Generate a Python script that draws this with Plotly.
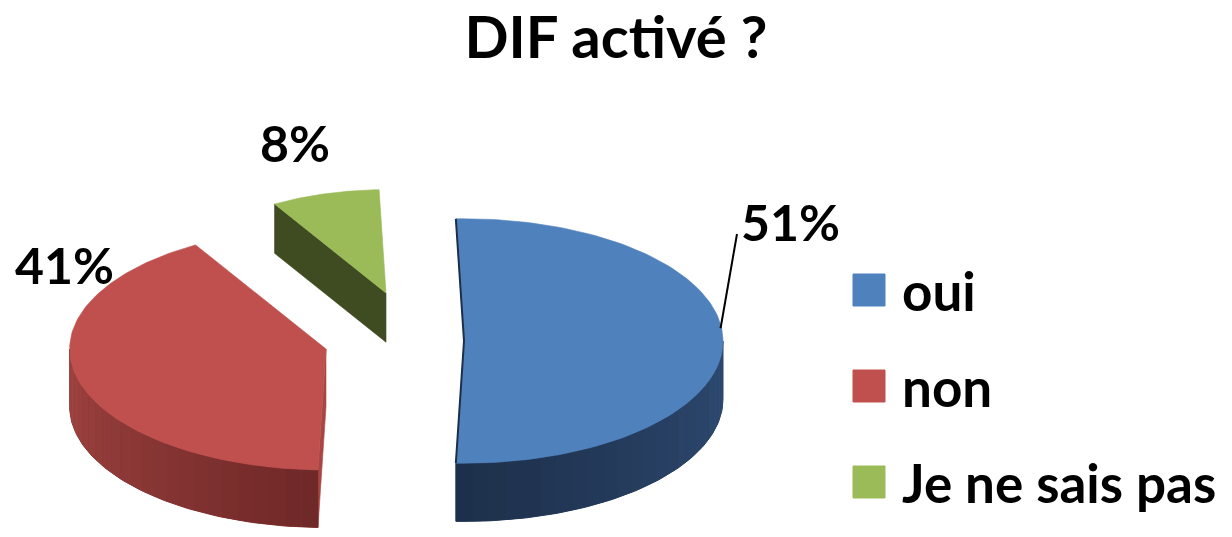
import numpy as np
import plotly.graph_objects as go

# ---- data ----
categories = ["oui", "non", "Je ne sais pas"]
values = [51, 41, 8]
title_text = "DIF activé ?"

# ---- style ----
top_colors = ["#4F81BD", "#C0504D", "#9BBB59"]
side_light = ["#2F4C74", "#A34543", "#4A5A28"]
side_dark = ["#1D2F4A", "#6E2827", "#3B4820"]
radial_colors = ["#22375A", "#A84644", "#3F4C21"]
FONT = "Lato"
START_ANGLE = 91.8

# geometry per slice (vertex position, scale) - projection parameters
RX, RY, DEPTH = 267, 126, 60
geo = [
    dict(cx=464, cy=341, s=0.97),  # oui
    dict(cx=326, cy=349, s=0.96),  # non
    dict(cx=386, cy=293, s=0.82),  # je ne sais pas
]

W, H = 1232, 537
fig = go.Figure()

total = float(sum(values))
fracs = [v / total for v in values]
cum = np.concatenate([[0], np.cumsum(fracs)])
starts = START_ANGLE - 360 * cum[:-1]
ends = START_ANGLE - 360 * cum[1:]


def pt(g, ang, dy=0.0):
    a = np.radians(ang)
    return (g["cx"] + g["s"] * RX * np.cos(a),
            g["cy"] - g["s"] * RY * np.sin(a) + g["s"] * dy)


def hexmix(c1, c2, t):
    c1 = [int(c1[i:i + 2], 16) for i in (1, 3, 5)]
    c2 = [int(c2[i:i + 2], 16) for i in (1, 3, 5)]
    c = [round(a + (b - a) * t) for a, b in zip(c1, c2)]
    return "#%02x%02x%02x" % tuple(c)


def poly(xs, ys, color, lw=0.6):
    fig.add_trace(go.Scatter(
        x=list(xs) + [xs[0]], y=list(ys) + [ys[0]], mode="lines",
        fill="toself", fillcolor=color,
        line=dict(color=color, width=lw),
        hoverinfo="skip", showlegend=False))


def radial_face(g, ang, color):
    ex, ey = pt(g, ang)
    ex2, ey2 = pt(g, ang, DEPTH)
    vz = g["cy"] + DEPTH * g["s"]
    poly([g["cx"], ex, ex2, g["cx"]], [g["cy"], ey, ey2, vz], color)


order = [2, 1, 0]  # back to front
for i in order:
    g = geo[i]
    a0, a1 = starts[i], ends[i]  # a0 > a1 (clockwise)
    # visible radial faces (the edge facing the viewer)
    if i in (1, 2):
        radial_face(g, a0, radial_colors[i])
    # front side wall, angles in [-180, 0]
    lo = max(a1, -180)
    hi = min(a0, 0)
    if hi > lo:
        angs = np.linspace(lo, hi, 80)
        top = [pt(g, a) for a in angs]
        bot = [pt(g, a, DEPTH) for a in angs[::-1]]
        poly([p[0] for p in top + bot], [p[1] for p in top + bot],
             hexmix(side_light[i], side_dark[i], 0.5), lw=1)
        n = 24
        edges = np.linspace(lo, hi, n + 1)
        for k in range(n):
            e0, e1 = edges[k], edges[k + 1]
            angs = np.linspace(e0, e1, 6)
            top = [pt(g, a) for a in angs]
            bot = [pt(g, a, DEPTH) for a in angs[::-1]]
            t = (k + 0.5) / n
            col = hexmix(side_light[i], side_dark[i], t if i == 1 else 1 - t)
            poly([p[0] for p in top + bot], [p[1] for p in top + bot], col, lw=0)
    # top face
    angs = np.linspace(a0, a1, 120)
    arc = [pt(g, a) for a in angs]
    xs = [g["cx"]] + [p[0] for p in arc]
    ys = [g["cy"]] + [p[1] for p in arc]
    poly(xs, ys, top_colors[i])
    if i == 0:
        x0, y0 = pt(g, a0)
        x1, y1 = pt(g, a1)
        fig.add_trace(go.Scatter(x=[x0, g["cx"], x1], y=[y0, g["cy"], y1],
                                 mode="lines", line=dict(color="#1D2F4A", width=2),
                                 hoverinfo="skip", showlegend=False))

# ---- percentage labels ----
labels = [f"{round(f * 100)}%" for f in fracs]
label_pos = [(790, 222), (64, 265), (295, 143)]
for i, (lx, ly) in enumerate(label_pos):
    fig.add_annotation(x=lx, y=ly, text=f"<b>{labels[i]}</b>", showarrow=False,
                       font=dict(family=FONT, size=50, color="black"),
                       xanchor="center", yanchor="middle")
# leader line for the first slice
mid0 = (starts[0] + ends[0]) / 2
lx0, ly0 = pt(geo[0], mid0 + 6)
fig.add_trace(go.Scatter(x=[lx0 - 1, 737], y=[ly0, 234], mode="lines",
                         line=dict(color="black", width=2), hoverinfo="skip", showlegend=False))

# ---- legend ----
leg_y = [290, 386, 482]
for i, c in enumerate(categories):
    fig.add_shape(type="rect", xref="x", yref="y", x0=853, x1=885,
                  y0=leg_y[i] - 16, y1=leg_y[i] + 16,
                  fillcolor=top_colors[i], line=dict(color=top_colors[i], width=1))
    fig.add_annotation(x=900, y=leg_y[i], text=f"<b>{c}</b>", showarrow=False, xanchor="left",
                       yanchor="middle", font=dict(family=FONT, size=53, color="black"))

fig.update_layout(
    width=W, height=H,
    margin=dict(l=0, r=0, t=0, b=0),
    paper_bgcolor="white", plot_bgcolor="white",
    title=dict(text=f"<b>{title_text}</b>", x=0.5, xanchor="center", y=0.93, yanchor="middle",
               font=dict(family=FONT, size=58, color="black")),
    xaxis=dict(range=[0, W], visible=False, fixedrange=True),
    yaxis=dict(range=[H, 0], visible=False, fixedrange=True),
    showlegend=False,
)

fig.write_html("out.html", post_script="document.body.style.margin='0';",
               config={"displayModeBar": False})
